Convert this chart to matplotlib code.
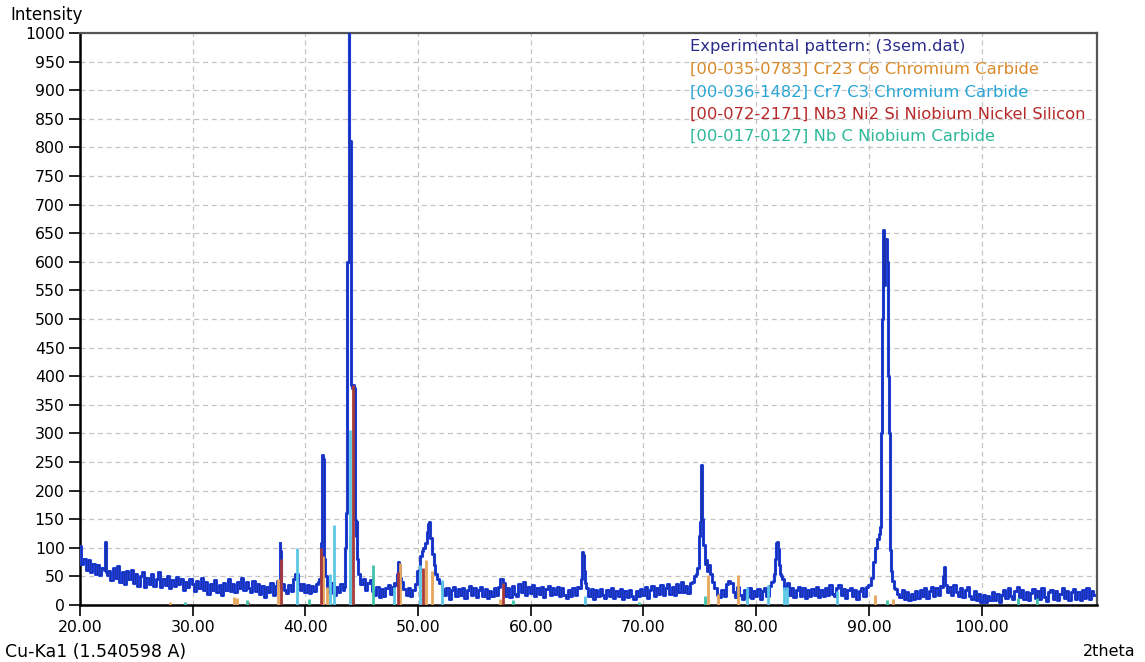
import numpy as np
import matplotlib
matplotlib.use("Agg")
import matplotlib.pyplot as plt

plt.rcParams['font.family'] = ['DejaVu Sans']

# --- measured diffraction pattern -------------------------------------------
# background scan, 0.2 deg steps from 20.0 to 110.0 deg 2theta
scan_start, scan_step = 20.0, 0.2
counts_20s = [104, 72, 80, 62, 78, 58, 72, 54, 70, 52, 65, 70, 52, 60, 44, 64, 48, 68, 40, 57,
              36, 59, 46, 62, 38, 54, 34, 50, 57, 32, 48, 37, 54, 33, 46, 57, 31, 45, 35, 51,
              29, 44, 33, 49, 36, 46, 27, 41, 32, 45]
counts_30s = [36, 24, 42, 30, 47, 26, 40, 20, 37, 26, 43, 23, 35, 18, 39, 27, 46, 24, 37, 22,
              40, 29, 47, 26, 40, 30, 23, 42, 25, 37, 20, 34, 14, 32, 22, 38, 18, 33, 42, 24,
              36, 27, 21, 35, 24, 45, 55, 36, 27, 37]
counts_40s = [23, 35, 21, 33, 24, 36, 40, 45, 50, 45, 30, 21, 38, 18, 32, 22, 37, 27, 40, 60,
              60, 60, 60, 60, 55, 36, 46, 26, 38, 44, 24, 18, 32, 14, 28, 16, 30, 35, 20, 32,
              38, 40, 40, 42, 28, 18, 30, 15, 27, 37]
counts_50s = [60, 62, 70, 80, 90, 100, 110, 100, 80, 50, 38, 28, 18, 30, 11, 26, 32, 15, 28, 18,
              30, 13, 27, 34, 17, 29, 14, 26, 32, 16, 28, 12, 25, 15, 30, 18, 32, 45, 38, 16,
              29, 14, 33, 20, 16, 36, 22, 40, 18, 32]
counts_60s = [21, 35, 16, 30, 19, 32, 14, 28, 34, 17, 30, 20, 32, 15, 29, 18, 13, 27, 16, 30,
              18, 32, 30, 30, 30, 28, 16, 28, 11, 26, 15, 28, 17, 13, 27, 16, 30, 12, 25, 15,
              28, 10, 24, 14, 27, 16, 11, 25, 15, 28]
counts_70s = [17, 31, 13, 27, 33, 16, 29, 19, 35, 18, 30, 37, 20, 32, 17, 36, 22, 40, 23, 34,
              21, 38, 40, 50, 55, 60, 60, 60, 60, 70, 55, 40, 30, 18, 14, 27, 16, 36, 42, 38,
              22, 14, 32, 18, 10, 26, 14, 29, 12, 25]
counts_80s = [15, 28, 11, 24, 30, 16, 34, 40, 45, 45, 45, 45, 45, 28, 38, 18, 30, 14, 27, 32,
              16, 29, 13, 26, 15, 28, 17, 32, 14, 27, 16, 30, 18, 35, 20, 15, 29, 35, 17, 28,
              13, 26, 30, 15, 27, 11, 24, 29, 16, 32]
counts_90s = [35, 35, 35, 35, 35, 35, 35, 35, 35, 35, 35, 35, 28, 20, 14, 27, 11, 22, 8, 20,
              10, 24, 13, 27, 15, 30, 12, 25, 32, 16, 29, 18, 34, 35, 38, 22, 32, 18, 35, 22,
              16, 30, 14, 26, 32, 15, 10, 24, 8, 20]
counts_100s = [6, 18, 5, 16, 8, 22, 9, 20, 5, 17, 26, 13, 30, 16, 10, 24, 32, 14, 27, 11,
               23, 8, 21, 28, 12, 24, 10, 30, 14, 7, 22, 27, 11, 24, 8, 20, 29, 12, 25, 9,
               22, 28, 11, 23, 8, 26, 13, 30, 10, 24, 18]

# finely sampled reflections (2theta, counts)
peak_22_theta = [22.22, 22.28, 22.34]
peak_22_counts = [62, 110, 58]
peak_37_theta = [37.70, 37.76, 37.82, 37.90]
peak_37_counts = [35, 108, 95, 30]
peak_41_theta = [41.30, 41.38, 41.44, 41.50, 41.58, 41.66, 41.72, 41.80]
peak_41_counts = [45, 70, 108, 263, 255, 255, 80, 50]
peak_44_theta = [43.50, 43.56, 43.62, 43.68, 43.76, 43.84, 43.88, 43.92, 43.98, 44.04,
                 44.10, 44.18, 44.26, 44.34, 44.42, 44.50, 44.58, 44.66, 44.76]
peak_44_counts = [32, 100, 160, 600, 600, 600, 1000, 812, 812, 600,
                  385, 380, 385, 380, 148, 120, 145, 80, 55]
peak_48_theta = [48.10, 48.20, 48.28, 48.36, 48.46, 48.56]
peak_48_counts = [35, 55, 75, 70, 48, 40]
peak_51_theta = [50.10, 50.25, 50.40, 50.55, 50.70, 50.85, 50.95, 51.05, 51.15, 51.30,
                 51.45, 51.60, 51.75]
peak_51_counts = [62, 85, 95, 100, 108, 128, 142, 145, 118, 90, 70, 55, 45]
peak_64_theta = [64.40, 64.52, 64.60, 64.68, 64.76, 64.86, 64.96]
peak_64_counts = [30, 45, 92, 88, 60, 38, 30]
peak_75_theta = [74.70, 74.84, 74.94, 75.02, 75.10, 75.18, 75.26, 75.36, 75.48, 75.60, 75.72]
peak_75_counts = [55, 65, 120, 145, 240, 245, 150, 105, 72, 78, 60]
peak_82_theta = [81.50, 81.62, 81.72, 81.80, 81.88, 81.96, 82.04, 82.14, 82.26]
peak_82_counts = [42, 55, 80, 108, 110, 98, 70, 55, 50]
peak_91_theta = [90.10, 90.30, 90.50, 90.65, 90.80, 90.92, 91.02, 91.08, 91.18, 91.32,
                 91.42, 91.52, 91.62, 91.74, 91.84, 91.90, 92.00, 92.12, 92.25]
peak_91_counts = [35, 48, 75, 100, 115, 125, 137, 300, 500, 655, 560, 640, 600, 400, 300,
                  96, 60, 42, 30]
peak_96_theta = [96.55, 96.62, 96.70, 96.78]
peak_96_counts = [32, 50, 66, 35]

# --- reference patterns (stick positions and scaled intensities) -------------
cr23c6_theta = [28.0, 33.7, 33.9, 37.6, 41.55, 41.9, 44.0, 48.4, 50.7, 51.2, 57.3,
                75.7, 76.6, 78.4, 90.55, 92.1]
cr23c6_int = [6, 14, 12, 45, 85, 31, 120, 73, 79, 60, 10, 52, 20, 52, 17, 10]
cr7c3_theta = [39.25, 42.2, 42.55, 43.95, 47.9, 50.2, 52.1, 64.8, 79.2, 81.05, 82.5,
               82.7, 87.2]
cr7c3_int = [100, 54, 140, 306, 31, 70, 44, 15, 31, 35, 31, 31, 25]
nb3ni2si_theta = [34.9, 37.8, 41.4, 44.2, 48.2, 50.4, 57.5]
nb3ni2si_int = [5, 80, 100, 385, 57, 65, 38]
nbc_theta = [29.3, 34.8, 40.3, 46.0, 58.4, 69.6, 75.5, 91.6, 103.2, 104.9]
nbc_int = [5, 8, 10, 70, 8, 6, 15, 8, 12, 12]

legend_labels = ["Experimental pattern: (3sem.dat)",
                 "[00-035-0783] Cr23 C6 Chromium Carbide",
                 "[00-036-1482] Cr7 C3 Chromium Carbide",
                 "[00-072-2171] Nb3 Ni2 Si Niobium Nickel Silicon",
                 "[00-017-0127] Nb C Niobium Carbide"]

# --- assemble the measured profile -------------------------------------------
bg_counts = np.array(counts_20s + counts_30s + counts_40s + counts_50s + counts_60s
                     + counts_70s + counts_80s + counts_90s + counts_100s, dtype=float)
bg_theta = scan_start + scan_step * np.arange(len(bg_counts))

peaks = [(peak_22_theta, peak_22_counts), (peak_37_theta, peak_37_counts),
         (peak_41_theta, peak_41_counts), (peak_44_theta, peak_44_counts),
         (peak_48_theta, peak_48_counts), (peak_51_theta, peak_51_counts),
         (peak_64_theta, peak_64_counts), (peak_75_theta, peak_75_counts),
         (peak_82_theta, peak_82_counts), (peak_91_theta, peak_91_counts),
         (peak_96_theta, peak_96_counts)]

keep = np.ones(len(bg_theta), dtype=bool)
for th, _ in peaks:
    keep &= ~((bg_theta >= th[0] - 0.05) & (bg_theta <= th[-1] + 0.05))
theta = np.concatenate([bg_theta[keep]] + [np.array(th) for th, _ in peaks])
counts = np.concatenate([bg_counts[keep]] + [np.array(c, dtype=float) for _, c in peaks])
order = np.argsort(theta)
theta, counts = theta[order], counts[order]

# --- figure ------------------------------------------------------------------
W, H = 1145, 662
fig = plt.figure(figsize=(W / 100, H / 100), dpi=100)
ax = fig.add_axes([80 / W, 57 / H, 1017 / W, 572 / H])

col_exp = '#1e40e0'
col_exp_dark = '#1a2380'
col_cr23 = '#e6a65c'
col_cr7 = '#5cc6e6'
col_nb3 = '#a83a3a'
col_nbc = '#3fc4aa'

ax.plot(theta, counts, color=col_exp, lw=2.2, zorder=3, drawstyle='steps-mid')
ax.plot(theta, counts, color=col_exp_dark, lw=0.8, alpha=0.55, zorder=4,
        drawstyle='steps-mid')

for th, it, c in [(cr23c6_theta, cr23c6_int, col_cr23),
                  (cr7c3_theta, cr7c3_int, col_cr7),
                  (nb3ni2si_theta, nb3ni2si_int, col_nb3),
                  (nbc_theta, nbc_int, col_nbc)]:
    ax.vlines(th, 0, it, colors=c, lw=2.0, zorder=5)

ax.set_xlim(20, 110.24)
ax.set_ylim(0, 1000)
ax.set_xticks(np.arange(20, 101, 10))
ax.set_xticklabels([f"{v:.2f}" for v in np.arange(20, 101, 10)])
ax.set_yticks(np.arange(0, 1001, 50))
ax.tick_params(axis='both', labelsize=11.3, length=8, width=1.2, direction='out',
               colors='black', pad=3)
ax.grid(True, color='#c4c4c4', ls=(0, (4, 3)), lw=0.9, zorder=0)
ax.set_axisbelow(True)

for side in ('left', 'bottom'):
    ax.spines[side].set_linewidth(1.8)
    ax.spines[side].set_color('black')
for side in ('top', 'right'):
    ax.spines[side].set_linewidth(1.6)
    ax.spines[side].set_color('#555555')

legend_colors = ['#2b2b8c', '#d98a2b', '#2aa5d5', '#b82a2a', '#2db89a']
legend_y = [0.977, 0.937, 0.897, 0.858, 0.820]
for lab, c, y in zip(legend_labels, legend_colors, legend_y):
    ax.text(0.600, y, lab, color=c, fontsize=11.8, transform=ax.transAxes,
            va='center', ha='left', zorder=6)

fig.text(10 / W, 1 - 15 / H, "Intensity", fontsize=12, va='center', ha='left')
fig.text(5 / W, 1 - 652 / H, "Cu-Ka1 (1.540598 A)", fontsize=12.5, va='center', ha='left')
fig.text(1136 / W, 1 - 652 / H, "2theta", fontsize=11.5, va='center', ha='right')

fig.savefig("out.png", dpi=100, facecolor='white')
